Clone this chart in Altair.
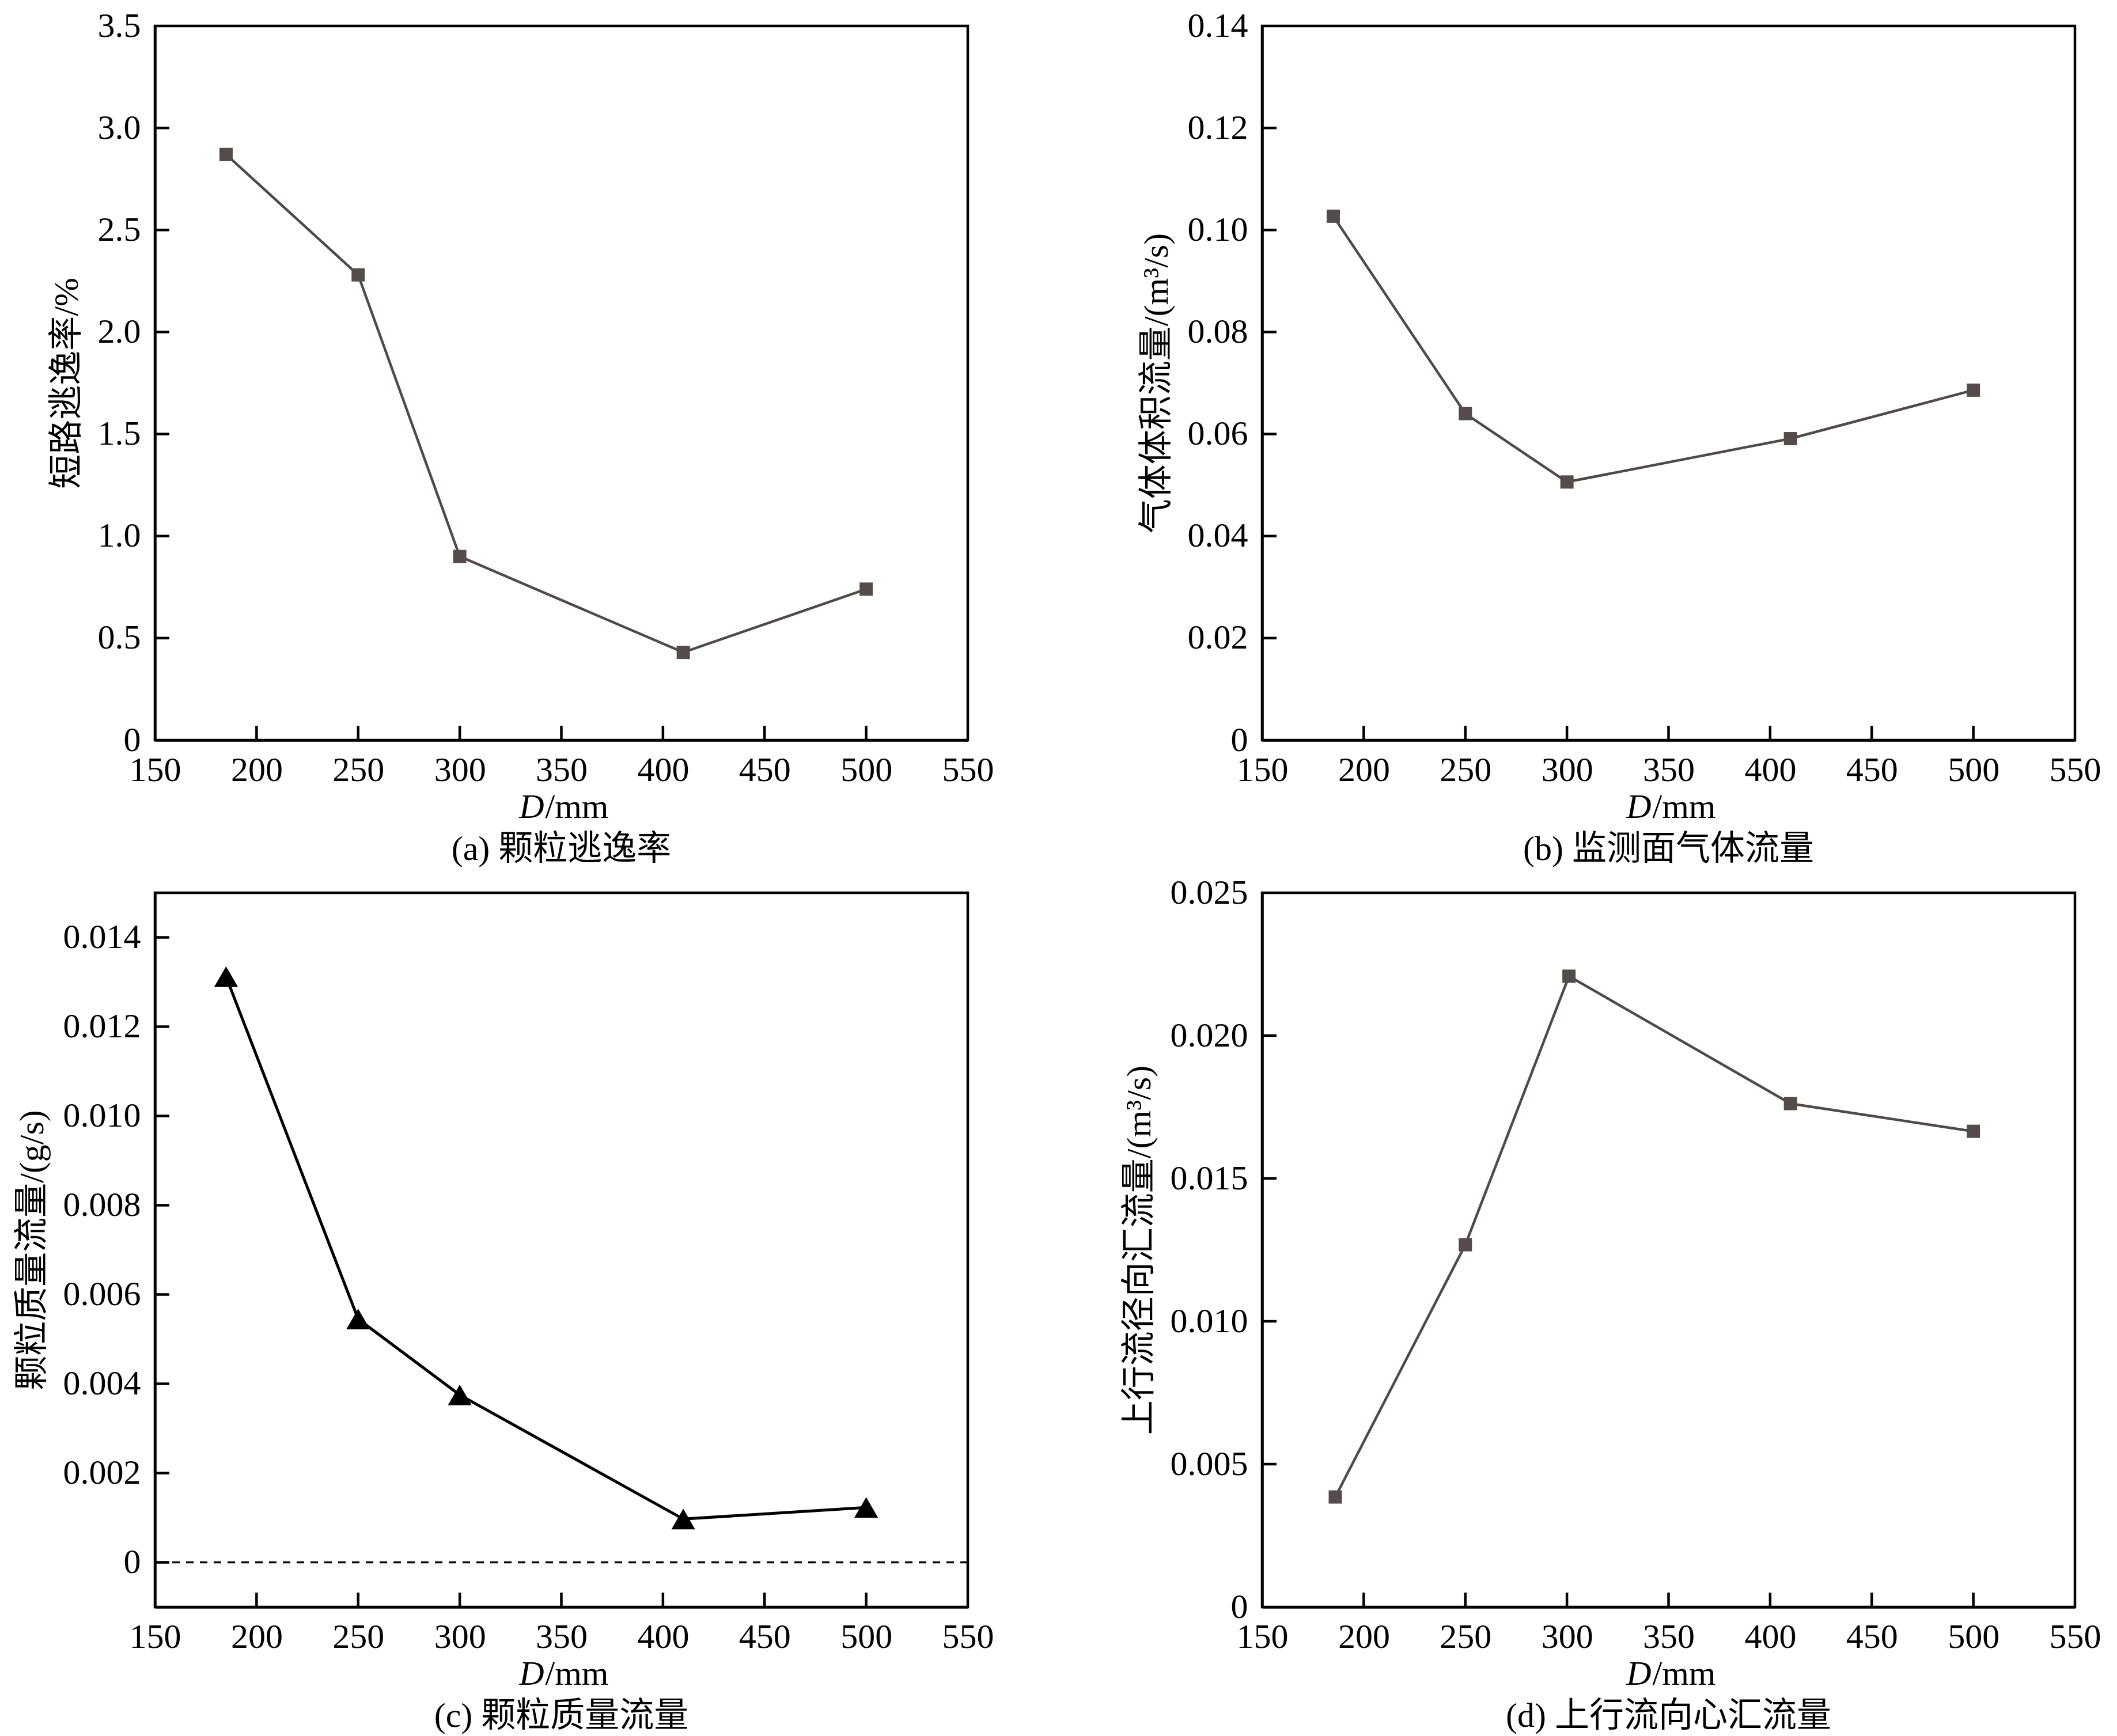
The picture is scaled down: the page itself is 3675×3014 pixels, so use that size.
import altair as alt
import pandas as pd

SERIF = "Liberation Serif, 'Noto Sans CJK SC', serif"

# ---- data ----
D_abc = [185, 250, 300, 410, 500]
escape_rate = [2.87, 2.28, 0.90, 0.43, 0.74]          # (a) %
gas_flow = [0.1027, 0.0640, 0.0506, 0.0591, 0.0686]   # (b) m3/s
particle_flux = [0.01312, 0.00545, 0.00375, 0.00097, 0.00123]  # (c) g/s
D_d = [186, 250, 301, 410, 500]
upflow = [0.00385, 0.01268, 0.02208, 0.01762, 0.01665]  # (d) m3/s

x_ticks = [150, 200, 250, 300, 350, 400, 450, 500, 550]
y_ticks_a = [0, 0.5, 1.0, 1.5, 2.0, 2.5, 3.0, 3.5]
y_ticks_b = [0, 0.02, 0.04, 0.06, 0.08, 0.10, 0.12, 0.14]
y_ticks_c = [0, 0.002, 0.004, 0.006, 0.008, 0.010, 0.012, 0.014]
y_ticks_d = [0, 0.005, 0.010, 0.015, 0.020, 0.025]

captions = ["(a) 颗粒逃逸率", "(b) 监测面气体流量", "(c) 颗粒质量流量", "(d) 上行流向心汇流量"]
y_titles = ["短路逃逸率/%", "气体体积流量/(m³/s)", "颗粒质量流量/(g/s)", "上行流径向汇流量/(m³/s)"]

W, H = 1411, 1240
TICK = 25
LINE_COL = "#514848"
PT_COL = "#544c4b"


def panel(xs, ys, ydomain, yticks, yfmt, ytitle, caption, line_col, pt_col,
          shape, size, lw, zero_line=False):
    df = pd.DataFrame({"D": xs, "v": ys})
    xscale = alt.Scale(domain=[150, 550], nice=False, zero=False)
    yscale = alt.Scale(domain=ydomain, nice=False, zero=False)

    def xaxis():
        return alt.Axis(values=x_ticks, title=None, labelFlush=False,
                        labelOverlap=False, ticks=False, labelPadding=23,
                        format="d")

    def yaxis():
        return alt.Axis(values=yticks, title=ytitle, labelOverlap=False,
                        labelFlush=False, ticks=False, labelPadding=25,
                        titlePadding=22,
                        labelExpr=f"datum.value == 0 ? '0' : format(datum.value, '{yfmt}')")

    base = alt.Chart(df)
    line = base.mark_line(color=line_col, strokeWidth=lw).encode(
        x=alt.X("D:Q", scale=xscale, axis=xaxis()),
        y=alt.Y("v:Q", scale=yscale, axis=yaxis()))
    pts = base.mark_point(shape=shape, size=size, filled=True, color=pt_col,
                          opacity=1, strokeWidth=0).encode(
        x=alt.X("D:Q", axis=xaxis()), y=alt.Y("v:Q", axis=yaxis()))

    # inward tick marks
    xt = alt.Chart(pd.DataFrame({"D": x_ticks[1:-1]})).mark_rule(
        color="black", strokeWidth=4.5).encode(
        x=alt.X("D:Q", axis=xaxis()), y=alt.value(H), y2=alt.value(H - TICK))
    inner_y = [v for v in yticks if ydomain[0] < v < ydomain[1]]
    yt = alt.Chart(pd.DataFrame({"v": inner_y})).mark_rule(
        color="black", strokeWidth=4.5).encode(
        y=alt.Y("v:Q", axis=yaxis()), x=alt.value(0), x2=alt.value(TICK))

    layers = [line, xt, yt]
    if zero_line:
        zl = alt.Chart(pd.DataFrame({"v": [0.0]})).mark_rule(
            color="black", strokeWidth=3.5, strokeDash=[13, 11]).encode(
            y=alt.Y("v:Q", axis=yaxis()))
        layers.append(zl)
    layers.append(pts)
    d_txt = alt.Chart(pd.DataFrame({"t": ["D"]})).mark_text(
        font=SERIF, fontSize=60, fontStyle="italic", align="right",
        baseline="middle", color="black").encode(
        text="t:N", x=alt.value(W / 2 - 30), y=alt.value(H + 117))
    mm_txt = alt.Chart(pd.DataFrame({"t": ["/mm"]})).mark_text(
        font=SERIF, fontSize=60, align="left", baseline="middle",
        color="black").encode(
        text="t:N", x=alt.value(W / 2 - 28), y=alt.value(H + 117))
    layers += [d_txt, mm_txt]
    return alt.layer(*layers).properties(
        width=W, height=H,
        title=alt.TitleParams(text=caption, orient="bottom", anchor="middle",
                              frame="group", offset=14, fontSize=60,
                              font=SERIF, fontWeight="normal", color="black"))


pa = panel(D_abc, escape_rate, [0, 3.5], y_ticks_a, ".1f", y_titles[0], captions[0],
           LINE_COL, PT_COL, "square", 529, 4.5)
pb = panel(D_abc, gas_flow, [0, 0.14], y_ticks_b, ".2f", y_titles[1], captions[1],
           LINE_COL, PT_COL, "square", 529, 4.5)
pc = panel(D_abc, particle_flux, [-0.001, 0.015], y_ticks_c, ".3f", y_titles[2], captions[2],
           "black", "black", "triangle-up", 1700, 5, zero_line=True)
pd_ = panel(D_d, upflow, [0, 0.025], y_ticks_d, ".3f", y_titles[3], captions[3],
            LINE_COL, PT_COL, "square", 529, 4.5)

chart = alt.concat(pa, pb, pc, pd_, columns=2,
                   spacing={"row": 265, "column": 511}, bounds="flush").properties(
    padding={"left": 15, "top": 4, "right": 5, "bottom": 5}
).configure_view(
    stroke="black", strokeWidth=4.5
).configure_axis(
    grid=False, domainColor="black", domainWidth=4.5, labelFont=SERIF,
    titleFont=SERIF, labelFontSize=60, titleFontSize=60, labelColor="black",
    titleColor="black", titleFontWeight="normal"
).configure_title(
    font=SERIF, fontSize=60, fontWeight="normal", color="black"
)

chart.save("out.html", embed_options={"renderer": "svg", "actions": False})
